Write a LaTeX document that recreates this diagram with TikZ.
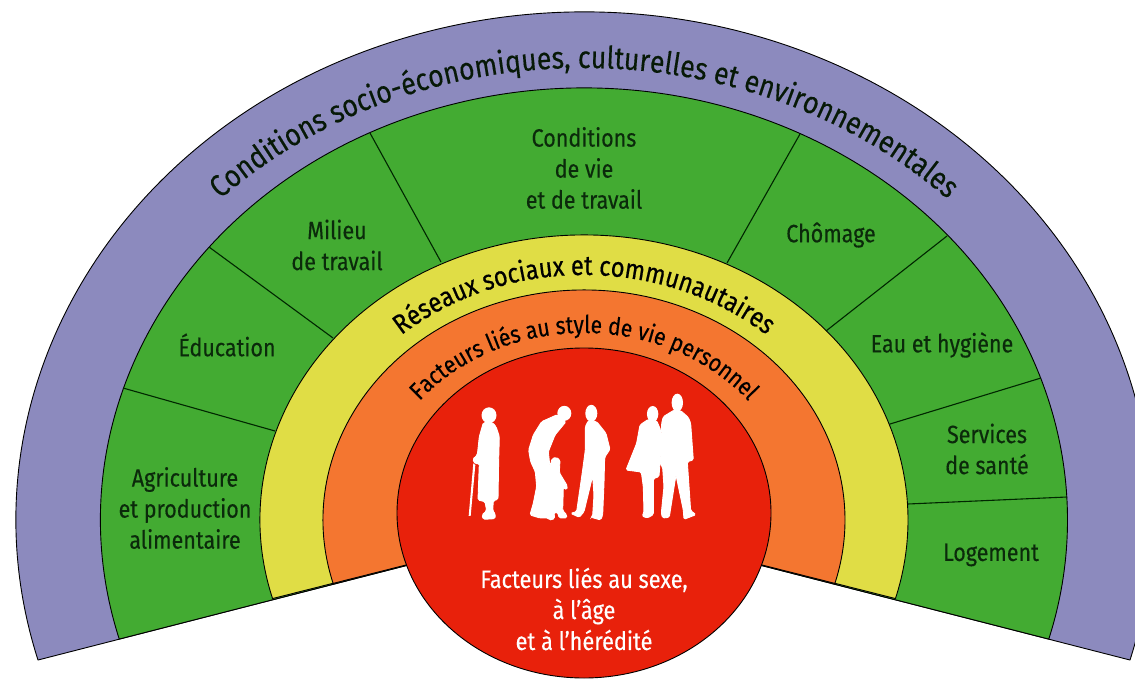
\documentclass[tikz,border=0pt]{standalone}
\usepackage{fontspec}
\setmainfont[FakeStretch=0.86,FakeBold=0.35]{Fira Sans}
\newfontfamily\ttlfont[FakeStretch=0.86,FakeBold=0.6]{Fira Sans}
\usetikzlibrary{decorations.text}
\definecolor{cpurple}{HTML}{8C8ABE}
\definecolor{cgreen}{HTML}{43AB32}
\definecolor{cyellow}{HTML}{E0DD45}
\definecolor{corange}{HTML}{F47630}
\definecolor{cred}{HTML}{E8210B}
\definecolor{cink}{HTML}{0B2A0B}
\tikzset{
  band/.style={draw=black,line width=0.9pt,line join=round},
  sep/.style={draw=black!85!green,line width=1.1pt},
  lab/.style={text=cink,align=center,font=\fontsize{25}{31}\selectfont},
  whitelab/.style={text=white,align=center,font=\fontsize{25.3}{31}\selectfont},
  person/.style={fill=white,draw=white,line width=0.9pt,rounded corners=1.5pt},
}
\newcommand{\sector}[3]{% colour, rx, ry
  \path[band,fill=#1] (584,520) ++(196:#2pt and #3pt)
    arc[start angle=196,end angle=-16,x radius=#2pt,y radius=#3pt] -- (584,520) -- cycle;
}
\begin{document}
\begin{tikzpicture}[x=1pt,y=-1pt]
\useasboundingbox (0,0) rectangle (1135,679);
\clip (0,0) rectangle (1135,679);
\sector{cpurple}{568}{508}
\sector{cgreen}{483.5}{432}
\sector{cyellow}{324}{285}
\sector{corange}{261}{230}
\foreach \a/\b [count=\i] in {123/388,209/247,370/133,800/134,947/236,1041/378,1067/497}{\coordinate (o\i) at (\a,\b);}
\foreach \a/\b [count=\i] in {275/431,333/338,441/262,727/263,826/331,890/424,908/504}{\coordinate (n\i) at (\a,\b);}
\foreach \i in {1,...,7}{\draw[sep] (o\i) -- (n\i);}
\path[band,fill=cred] (584,513) ellipse[x radius=187pt,y radius=165pt];
% curved titles
\path[decorate,decoration={text along path,text align=center,text color=cink!60!black,
  text={|\fontsize{31}{31}\selectfont|Conditions socio-économiques, culturelles et environnementales}}]
  (584,520) ++(175:516pt and 452pt) arc[start angle=175,end angle=5,x radius=516pt,y radius=452pt];
\path[decorate,decoration={text along path,text align=center,text color=black,
  text={|\ttlfont\fontsize{27.5}{27.5}\selectfont|Réseaux sociaux et communautaires}}]
  (584,520) ++(170:278pt and 245pt) arc[start angle=170,end angle=10,x radius=278pt,y radius=245pt];
\path[decorate,decoration={text along path,text align=center,text color=black,
  text={|\fontsize{24.5}{24.5}\selectfont|Facteurs liés au style de vie personnel}}]
  (584,520) ++(170:213pt and 187pt) arc[start angle=170,end angle=10,x radius=213pt,y radius=187pt];
% labels
\node[lab] (l1) at (185,508) {Agriculture\\et production\\alimentaire};
\node[lab] (l2) at (227,345) {Éducation};
\node[lab] (l3) at (337,245) {Milieu\\de travail};
\node[lab] (l4) at (584,168) {Conditions\\de vie\\et de travail};
\node[lab] (l5) at (831,235) {Chômage};
\node[lab] (l6) at (942,345) {Eau et hygiène};
\node[lab] (l7) at (987,449) {Services\\de santé};
\node[lab] (l8) at (991,555) {Logement};
\node[whitelab] (l9) at (584,609) {Facteurs liés au sexe,\\à l’âge\\et à l’hérédité};
% silhouettes (traced)
\begin{scope}[shift={(440,380)},x=0.3333pt,y=-0.3333pt]
\fill[white] (147,106) ellipse[x radius=7.5pt,y radius=8pt];
\filldraw[person] (130,128) -- (118,170) -- (112,225) -- (98,238) -- (106,252) -- (118,250) -- (114,360) -- (135,365) -- (140,392) -- (126,405) -- (130,418) -- (165,416) -- (166,402) -- (158,392) -- (160,362) -- (174,358) -- (176,240) -- (178,170) -- (168,140) -- (158,128) -- cycle;
\fill[white] (100,250) -- (86,408) -- (92,408) -- (106,255) -- cycle;
\fill[white] (373,100) ellipse[x radius=7pt,y radius=7.5pt];
\filldraw[person] (352,104) -- (305,125) -- (280,165) -- (266,210) -- (272,245) -- (286,275) -- (290,320) -- (280,370) -- (270,405) -- (300,414) -- (325,414) -- (330,420) -- (344,416) -- (342,398) -- (352,396) -- (358,414) -- (380,414) -- (380,404) -- (368,392) -- (370,322) -- (380,330) -- (382,318) -- (358,278) -- (360,240) -- (348,232) -- (336,236) -- (330,262) -- (325,215) -- (345,165) -- (378,125) -- cycle;
\fill[white] (454,100) ellipse[x radius=6pt,y radius=8.5pt];
\filldraw[person] (445,122) -- (436,140) -- (436,210) -- (428,270) -- (410,395) -- (392,400) -- (418,412) -- (432,395) -- (458,288) -- (462,345) -- (458,408) -- (454,412) -- (482,420) -- (488,405) -- (492,310) -- (494,232) -- (510,208) -- (498,160) -- (470,125) -- cycle;
\fill[white] (638,102) ellipse[x radius=5.7pt,y radius=8pt];
\filldraw[person] (625,118) -- (600,135) -- (590,190) -- (558,270) -- (604,276) -- (610,320) -- (612,398) -- (606,408) -- (622,414) -- (640,404) -- (640,296) -- (657,290) -- (660,250) -- (662,150) -- (650,122) -- cycle;
\fill[white] (712,68) ellipse[x radius=5.7pt,y radius=9pt];
\filldraw[person] (703,90) -- (670,110) -- (665,130) -- (660,250) -- (668,262) -- (672,320) -- (664,400) -- (668,414) -- (688,412) -- (690,398) -- (708,285) -- (730,390) -- (732,418) -- (768,404) -- (752,392) -- (742,245) -- (760,240) -- (752,130) -- (745,112) -- (722,92) -- cycle;
\end{scope}
\end{tikzpicture}
\end{document}
